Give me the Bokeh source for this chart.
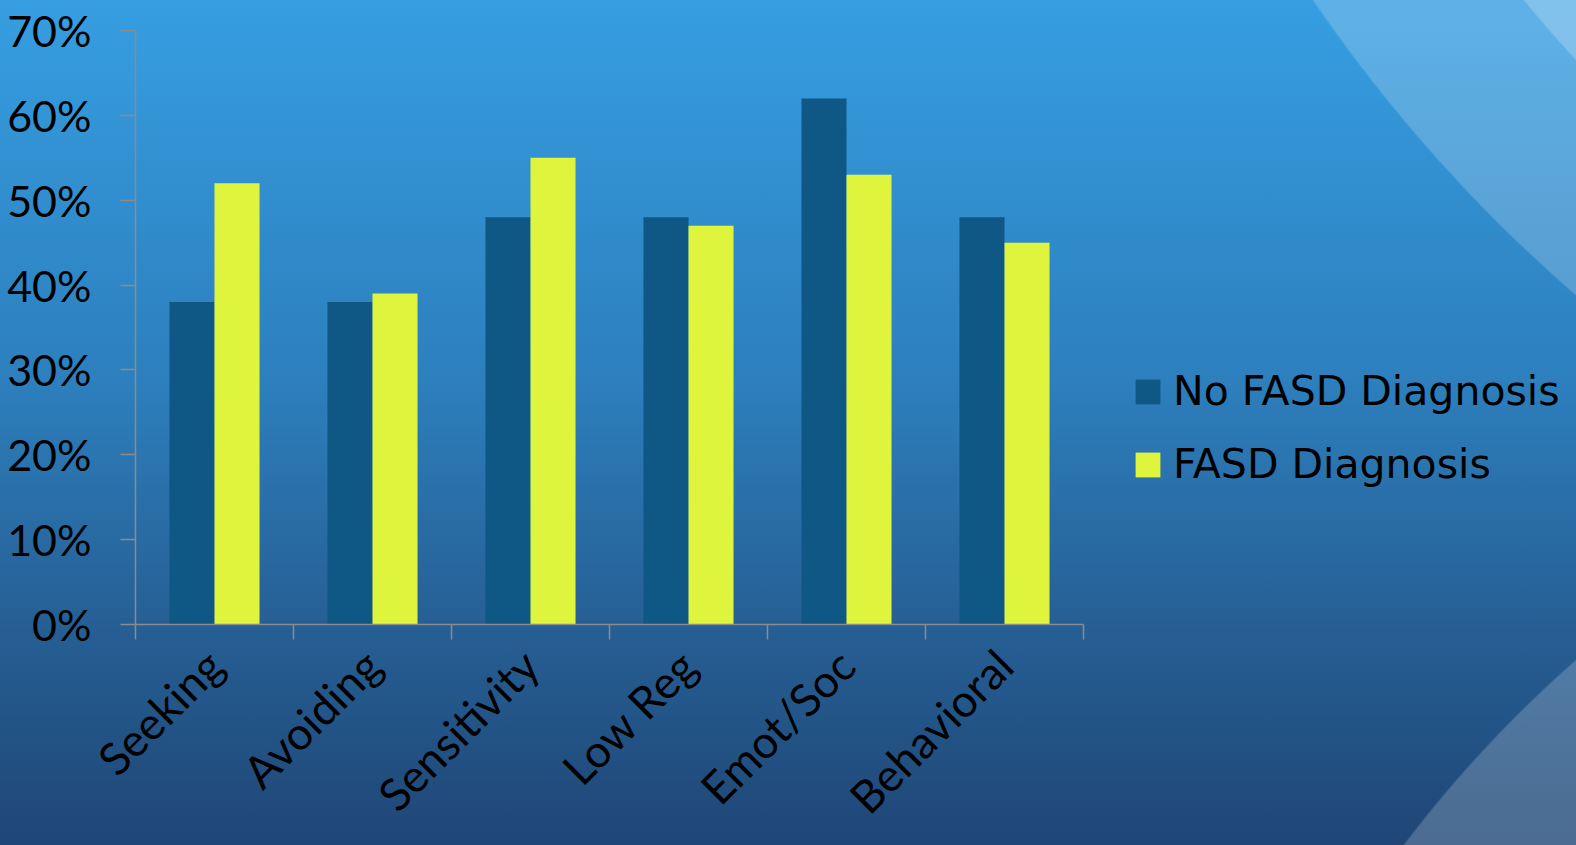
import numpy as np
from bokeh.plotting import figure
from bokeh.models import (ColumnDataSource, Range1d, LinearAxis, FixedTicker,
                          CustomJSTickFormatter, NumeralTickFormatter, Legend, LegendItem)
from bokeh.transform import dodge
from bokeh.embed import file_html
from bokeh.resources import INLINE

categories = ["Seeking", "Avoiding", "Sensitivity", "Low Reg", "Emot/Soc", "Behavioral"]
no_fasd = [0.38, 0.38, 0.48, 0.48, 0.62, 0.48]
fasd = [0.52, 0.39, 0.55, 0.47, 0.53, 0.45]
series_names = ["No FASD Diagnosis", "FASD Diagnosis"]
y_ticks = [0.0, 0.1, 0.2, 0.3, 0.4, 0.5, 0.6, 0.7]

DARK = "#0f5784"
YELLOW = "#dff53d"
GRID = "#8c8c8c"

W, H = 1576, 845
LEFT, TOP, BOTTOM = 135, 30, 220
CAT_PX = 158  # pixel width of one category slot
n = len(categories)
x_end = (W - LEFT) / CAT_PX  # frame extends to the right edge (legend lives there)

src = ColumnDataSource(dict(x=np.arange(n) + 0.5, a=no_fasd, b=fasd))

p = figure(width=W, height=H, output_backend="svg", toolbar_location=None,
           x_range=Range1d(0, x_end), y_range=Range1d(0, 0.7),
           x_axis_type=None, y_axis_type=None,
           min_border_left=LEFT, min_border_right=0, min_border_top=TOP, min_border_bottom=BOTTOM)
p.background_fill_alpha = 0
p.border_fill_alpha = 0
p.outline_line_color = None
p.styles = {
    "background": (
        "radial-gradient(circle 1366px at 2581px -865px, rgba(255,255,255,0.22) 1365px, rgba(255,255,255,0) 1367px),"
        "radial-gradient(circle 1535px at 2581px -865px, rgba(255,255,255,0.2) 1534px, rgba(255,255,255,0) 1536px),"
        "radial-gradient(circle 1250px at 2400px 1600px, rgba(255,255,255,0.2) 1249px, rgba(255,255,255,0) 1251px),"
        "linear-gradient(to bottom, #369ee1 0%, #2d7fbd 45%, #265f94 74%, #1f4676 100%)"
    )
}

w = 0.285
r1 = p.vbar(x=dodge("x", -w / 2, range=p.x_range), top="a", width=w, source=src,
            fill_color=DARK, line_color=None)
r2 = p.vbar(x=dodge("x", w / 2, range=p.x_range), top="b", width=w, source=src,
            fill_color=YELLOW, line_color=None)

# y axis
yax = LinearAxis(ticker=FixedTicker(ticks=y_ticks), formatter=NumeralTickFormatter(format="0%"))
yax.axis_line_color = GRID
yax.axis_line_width = 1.5
yax.major_tick_line_color = GRID
yax.major_tick_line_width = 1.5
yax.major_tick_in = 0
yax.major_tick_out = 15
yax.minor_tick_line_color = None
yax.major_label_standoff = 29
yax.major_label_text_font = "Lato"
yax.major_label_text_font_size = "43px"
yax.major_label_text_color = "black"
p.add_layout(yax, "left")

# x axis
xax = LinearAxis(ticker=FixedTicker(ticks=list(np.arange(n) + 0.5),
                                    minor_ticks=list(range(n + 1))),
                 formatter=CustomJSTickFormatter(args=dict(labels=categories),
                                                 code="return labels[Math.floor(tick)];"),
                 bounds=(0, n))
xax.axis_line_color = GRID
xax.axis_line_width = 1.5
xax.major_tick_line_color = None
xax.major_tick_in = 0
xax.major_tick_out = 15
xax.minor_tick_line_color = GRID
xax.minor_tick_line_width = 1.5
xax.minor_tick_in = 0
xax.minor_tick_out = 15
xax.major_label_orientation = np.pi / 4
xax.major_label_standoff = 18
xax.major_label_text_font = "Lato"
xax.major_label_text_font_size = "45px"
xax.major_label_text_color = "black"
p.add_layout(xax, "below")

p.ygrid.ticker = FixedTicker(ticks=y_ticks)
p.ygrid.grid_line_color = GRID
p.ygrid.grid_line_width = 1.5
p.ygrid.cross_bounds = (0, n)
p.xgrid.visible = False

legend = Legend(items=[LegendItem(label=series_names[0], renderers=[r1]),
                       LegendItem(label=series_names[1], renderers=[r2])],
                location=(997, 136))
legend.background_fill_alpha = 0
legend.border_line_color = None
legend.padding = 0
legend.margin = 0
legend.spacing = 25
legend.glyph_width = 31
legend.glyph_height = 31
legend.label_standoff = 10
legend.label_text_font = "DejaVu Sans"
legend.label_text_font_size = "41px"
legend.label_text_color = "black"
p.add_layout(legend, "center")

open("out.html", "w").write(file_html(p, INLINE))
